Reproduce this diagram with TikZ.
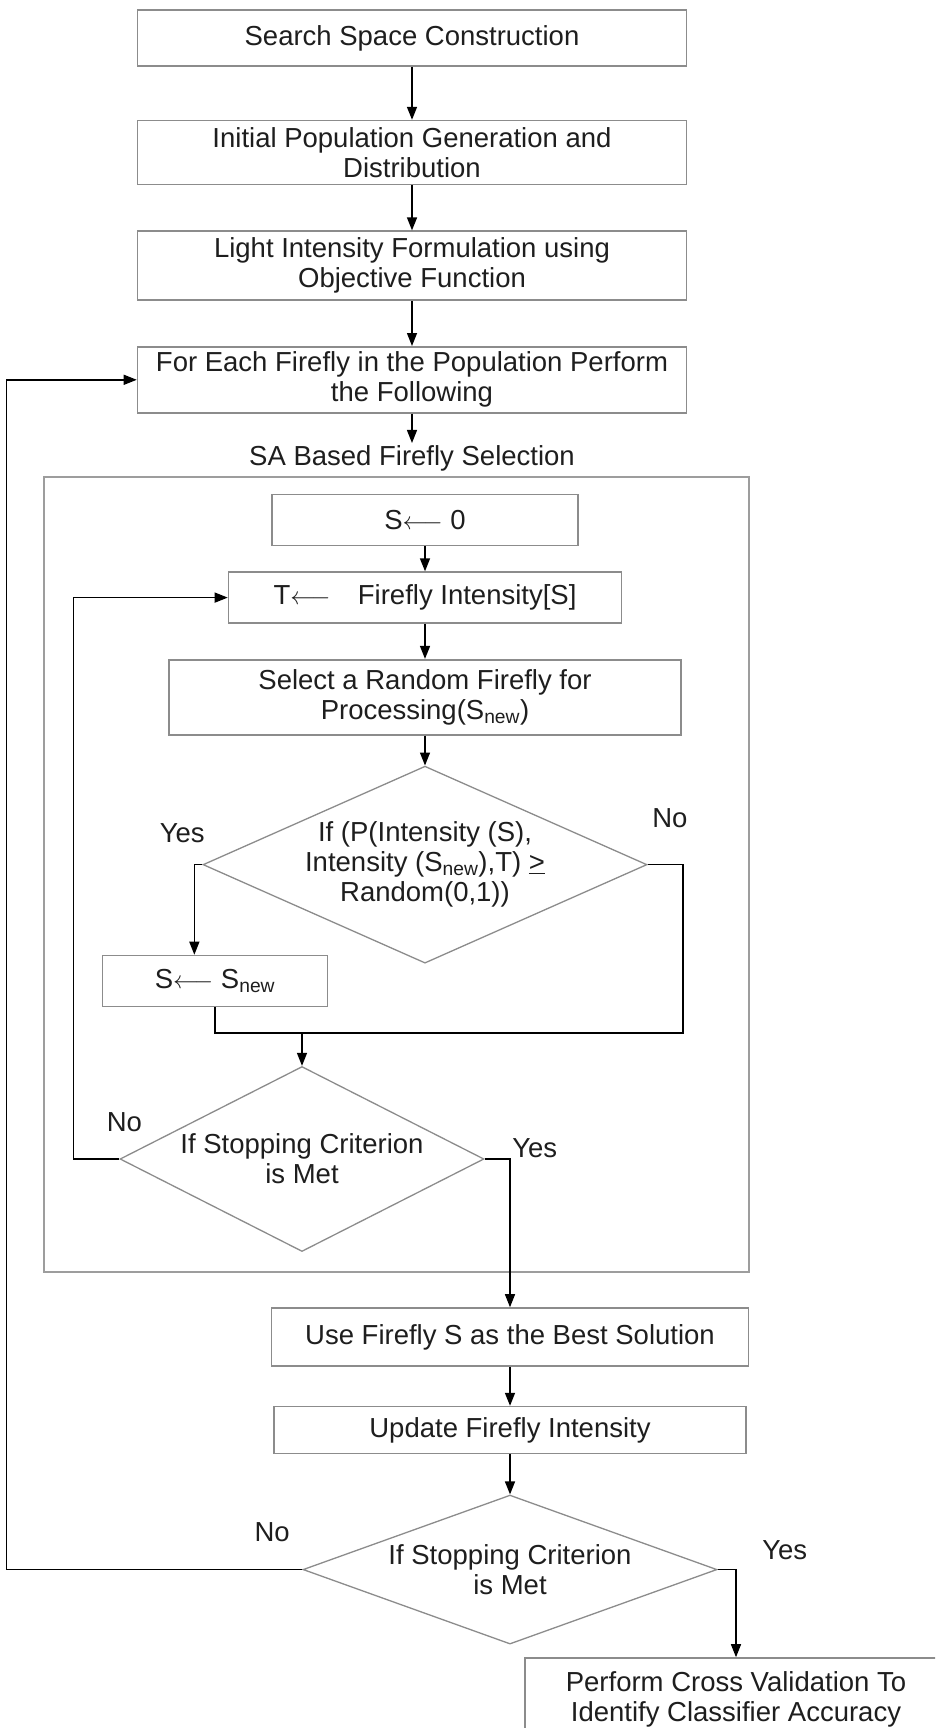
\documentclass[tikz,border=0pt]{standalone}
\usepackage{fontspec}
\setmainfont{Liberation Sans}
\usetikzlibrary{arrows.meta, positioning, shapes.geometric, fit}
\definecolor{edgegray}{HTML}{8C8C8C}
\definecolor{inkgray}{HTML}{1E1E1E}

\begin{document}
\begin{tikzpicture}[
    x=1pt, y=-1pt,
    every node/.style={font=\fontsize{27.5pt}{30pt}\selectfont, text=inkgray},
    box/.style={
        rectangle,
        draw=edgegray,
        line width=1.6pt,
        align=center,
        inner sep=4pt
    },
    decision/.style={
        diamond,
        draw=edgegray,
        line width=1.3pt,
        align=center,
        inner sep=0pt
    },
    saframe/.style={rectangle, draw=edgegray!85, line width=2pt, inner sep=0pt},
    arrow/.style={-{Triangle[length=13pt, width=10pt]}, line width=1.4pt, color=black},
    link/.style={line width=1.4pt, color=black},
    lbl/.style={inner sep=0pt}
]
\useasboundingbox (0,0) rectangle (935,1728);
\clip (0,0) rectangle (935,1728);
\fill[white] (0,0) rectangle (935,1728);

% outer steps
\node[box, minimum width=549pt, minimum height=56pt] (search) at (412,38) {Search Space Construction};
\node[box, minimum width=549pt, minimum height=64pt, below=53pt of search] (init) {Initial Population Generation and\\Distribution};
\node[box, minimum width=549pt, minimum height=69pt, below=45pt of init] (light) {Light Intensity Formulation using\\Objective Function};
\node[box, minimum width=549pt, minimum height=66pt, below=45pt of light] (each) {For Each Firefly in the Population Perform\\the Following};
\node[inner sep=2pt] (satitle) at (412,458) {SA Based Firefly Selection};

% SA block
\coordinate (fa) at (44,477);
\coordinate (fb) at (749,1272);
\node[saframe, fit=(fa)(fb)] (sabox) {};

\node[box, minimum width=306pt, minimum height=51pt] (sinit) at (425,520) {S$\longleftarrow$\ 0};
\node[box, minimum width=393pt, minimum height=51pt, below=25pt of sinit] (stemp) {T$\longleftarrow$\quad Firefly Intensity[S]};
\node[box, minimum width=512pt, minimum height=75pt, below=35pt of stemp] (ssel) {Select a Random Firefly for\\Processing(S\textsubscript{new})};
\node[decision, aspect=2.25, minimum width=444pt, minimum height=197pt, below=30pt of ssel] (accept) {If (P(Intensity (S),\\Intensity (S\textsubscript{new}),T) \underline{>}\\Random(0,1))};
\node[box, minimum width=225pt, minimum height=51pt] (snew) at (215,981) {S$\longleftarrow$\ S\textsubscript{new}};
\node[decision, aspect=1.97, minimum width=364pt, minimum height=185pt] (stopin) at (302,1159) {If Stopping Criterion\\is Met};

% after the SA block
\node[box, minimum width=477pt, minimum height=58pt] (best) at (510,1337) {Use Firefly S as the Best Solution};
\node[box, minimum width=472pt, minimum height=47pt, below=39pt of best] (update) {Update Firefly Intensity};
\node[decision, aspect=2.78, minimum width=414pt, minimum height=149pt, below=40pt of update] (stopout) {If Stopping Criterion\\is Met};
\node[box, minimum width=422pt, minimum height=82pt] (cross) at (736,1699) {Perform Cross Validation To\\Identify Classifier Accuracy};

\coordinate (rj) at (683,1033);
\coordinate (jn) at (302,1033);

% ARROWS
\draw[arrow] (search) -- (init);
\draw[arrow] (init) -- (light);
\draw[arrow] (light) -- (each);
\draw[arrow] (each) -- (satitle);
\draw[arrow] (sinit) -- (stemp);
\draw[arrow] (stemp) -- (ssel);
\draw[arrow] (ssel) -- (accept);
\draw[arrow] (accept.west) -- node[lbl, at start, above left, xshift=3pt, yshift=21pt] {Yes} ++(-8,0) coordinate (yk) -- (yk |- snew.north);
\draw[link] (accept.east) -| node[lbl, at start, above right, xshift=4pt, yshift=36pt] {No} (rj) -| (snew.south);
\draw[arrow] (jn) -- (stopin.north);
\draw[arrow] (stopin.west) -- node[lbl, at start, above, xshift=5pt, yshift=27pt] {No} ++(-46,0) |- (stemp.west);
\draw[arrow] (stopin.east) -| node[lbl, at start, above right, xshift=27pt, yshift=1pt] {Yes} (best.north);
\draw[arrow] (best) -- (update);
\draw[arrow] (update) -- (stopout);
\draw[arrow] (stopout.west) -- node[lbl, at start, above left, xshift=-12pt, yshift=27pt] {No} ++(-296,0) |- (each.west);
\draw[arrow] (stopout.east) -| node[lbl, at start, above right, xshift=44pt, yshift=9pt] {Yes} (cross.north);

\end{tikzpicture}
\end{document}
